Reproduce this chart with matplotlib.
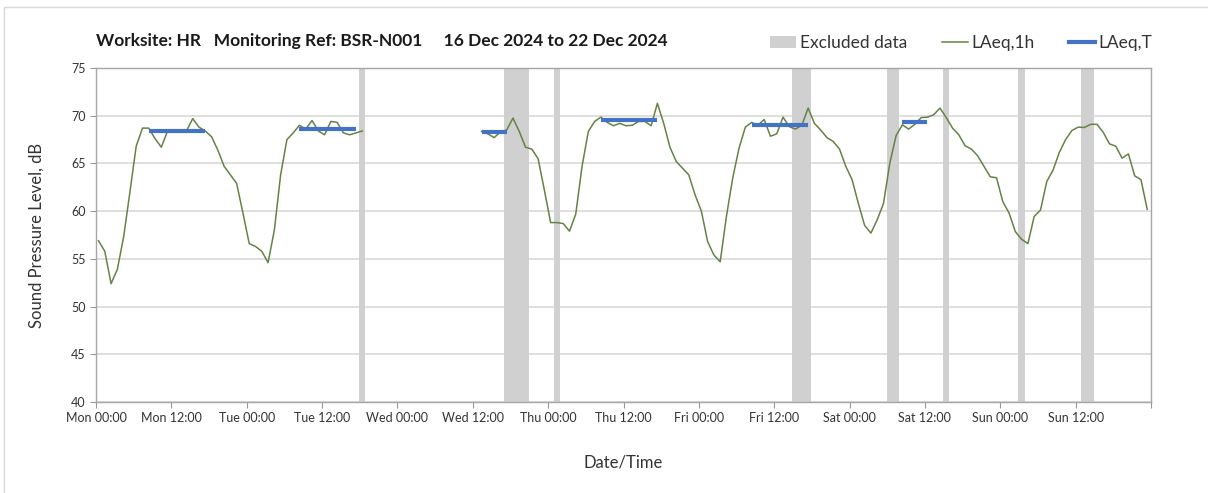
import numpy as np
import matplotlib
matplotlib.use("Agg")
import matplotlib.pyplot as plt
from matplotlib.patches import Rectangle, Patch
from matplotlib.lines import Line2D

plt.rcParams['font.family'] = ['Lato', 'DejaVu Sans']

# hourly LAeq,1h, hour index 0 = Mon 00:00 (NaN = no data)
laeq_1h = [
    56.9, 55.8, 52.4, 53.9, 57.3, 62.0, 66.8, 68.7, 68.7, 67.6, 66.7, 68.4,
    68.4, 68.4, 68.4, 69.7, 68.8, 68.4, 67.8, 66.4, 64.7, 63.8, 62.9, 59.8,
    56.6, 56.3, 55.8, 54.6, 58.0, 63.8, 67.5, 68.2, 69.0, 68.6, 69.5, 68.4,
    68.0, 69.4, 69.3, 68.2, 68.0, 68.2, 68.4, np.nan, np.nan, np.nan, np.nan, np.nan,
    np.nan, np.nan, np.nan, np.nan, np.nan, np.nan, np.nan, np.nan, np.nan, np.nan, np.nan, np.nan,
    np.nan, 68.35, 68.1, 67.7, 68.3, 68.5, 69.75, 68.35, 66.7, 66.5, 65.5, 62.2,
    58.8, 58.8, 58.7, 57.9, 59.7, 64.7, 68.35, 69.4, 69.85, 69.3, 68.95, 69.2,
    68.95, 69.0, 69.4, 69.4, 68.95, 71.3, 69.2, 66.7, 65.2, 64.5, 63.8, 61.7,
    60.0, 56.8, 55.4, 54.7, 59.5, 63.5, 66.6, 68.8, 69.3, 69.0, 69.6, 67.85,
    68.1, 69.85, 68.85, 68.6, 69.0, 70.8, 69.2, 68.5, 67.7, 67.3, 66.5, 64.7,
    63.3, 60.8, 58.5, 57.7, 59.1, 60.8, 65.0, 67.9, 69.05, 68.6, 69.1, 69.8,
    69.85, 70.1, 70.8, 69.8, 68.7, 68.0, 66.85, 66.5, 65.8, 64.7, 63.6, 63.5,
    61.0, 59.8, 57.85, 57.05, 56.6, 59.45, 60.1, 63.1, 64.3, 66.15, 67.5, 68.45,
    68.8, 68.77, 69.1, 69.1, 68.25, 67.05, 66.8, 65.55, 66.0, 63.7, 63.3, 60.2,
]

# LAeq,T periods: first hour, last hour, level
laeq_t_start = [8, 32, 61, 80, 104, 128]
laeq_t_end = [17, 41, 65, 89, 113, 132]
laeq_t_value = [68.4, 68.6, 68.25, 69.55, 69.05, 69.35]

# excluded data: first hour, number of hours
excl_start = [42, 65, 73, 111, 126, 135, 147, 157]
excl_hours = [1, 4, 1, 3, 2, 1, 1, 2]

tick_labels = ["Mon 00:00", "Mon 12:00", "Tue 00:00", "Tue 12:00", "Wed 00:00",
               "Wed 12:00", "Thu 00:00", "Thu 12:00", "Fri 00:00", "Fri 12:00",
               "Sat 00:00", "Sat 12:00", "Sun 00:00", "Sun 12:00", ""]

off = 0.4
hours = np.arange(len(laeq_1h)) + off

fig = plt.figure(figsize=(12.08, 4.93), dpi=100)
ax = fig.add_axes([96/1208, 1-402/493, (1151-96)/1208, (402-68)/493])

# border round the chart
fig.patches.append(Rectangle((4/1208, -0.1), 1.1, 1.1 - 7/493, transform=fig.transFigure,
                             fill=False, edgecolor='#d9d9d9', linewidth=1))

for s, n in zip(excl_start, excl_hours):
    ax.axvspan(s + off - 0.5, s + off - 0.5 + n, color='#d0d0d0', linewidth=0, zorder=1)

ax.plot(hours, laeq_1h, color='#648345', linewidth=1.1, zorder=3)
for s, e, v in zip(laeq_t_start, laeq_t_end, laeq_t_value):
    ax.plot([s + off, e + off], [v, v], color='#4472c4', linewidth=3, zorder=4,
            solid_capstyle='butt')

ax.set_xlim(0, 168)
ax.set_ylim(40, 75)
ax.set_yticks(np.arange(40, 76, 5))
ax.set_xticks(np.arange(0, 169, 12))
ax.set_xticklabels(tick_labels)
ax.set_xticks(np.arange(0, 169, 24), minor=True)

ax.grid(axis='y', color='#d9d9d9', linewidth=1.2, zorder=0)
ax.grid(axis='x', which='minor', color='#e4e4e4', linewidth=1.2, zorder=0)
ax.tick_params(axis='x', which='minor', length=0)
ax.tick_params(axis='both', which='major', labelsize=9, labelcolor='#333333', length=4,
               width=0.8, direction='out', color='#999999')
for sp in ax.spines.values():
    sp.set_color('#a6a6a6')
    sp.set_linewidth(1)
ax.set_axisbelow(True)

ax.set_ylabel("Sound Pressure Level, dB", fontsize=12, color='#333333', labelpad=19)
ax.set_xlabel("Date/Time", fontsize=12, color='#333333', labelpad=22)

fig.text(96/1208, 1-41/493, "Worksite: HR   Monitoring Ref: BSR-N001     16 Dec 2024 to 22 Dec 2024",
         fontsize=12.5, fontweight='bold', va='center', ha='left', color='#1a1a1a')

handles = [Patch(facecolor='#d0d0d0', edgecolor='none'),
           Line2D([0], [0], color='#648345', linewidth=1.1),
           Line2D([0], [0], color='#4472c4', linewidth=3)]
fig.legend(handles, ["Excluded data", "LAeq,1h", "LAeq,T"], loc='center right',
           bbox_to_anchor=(1168/1208, 1-43/493), ncol=3, frameon=False, fontsize=12.5,
           handlelength=1.5, handletextpad=0.2, columnspacing=2.0, labelcolor='#333333')

fig.savefig("out.png", dpi=100)
